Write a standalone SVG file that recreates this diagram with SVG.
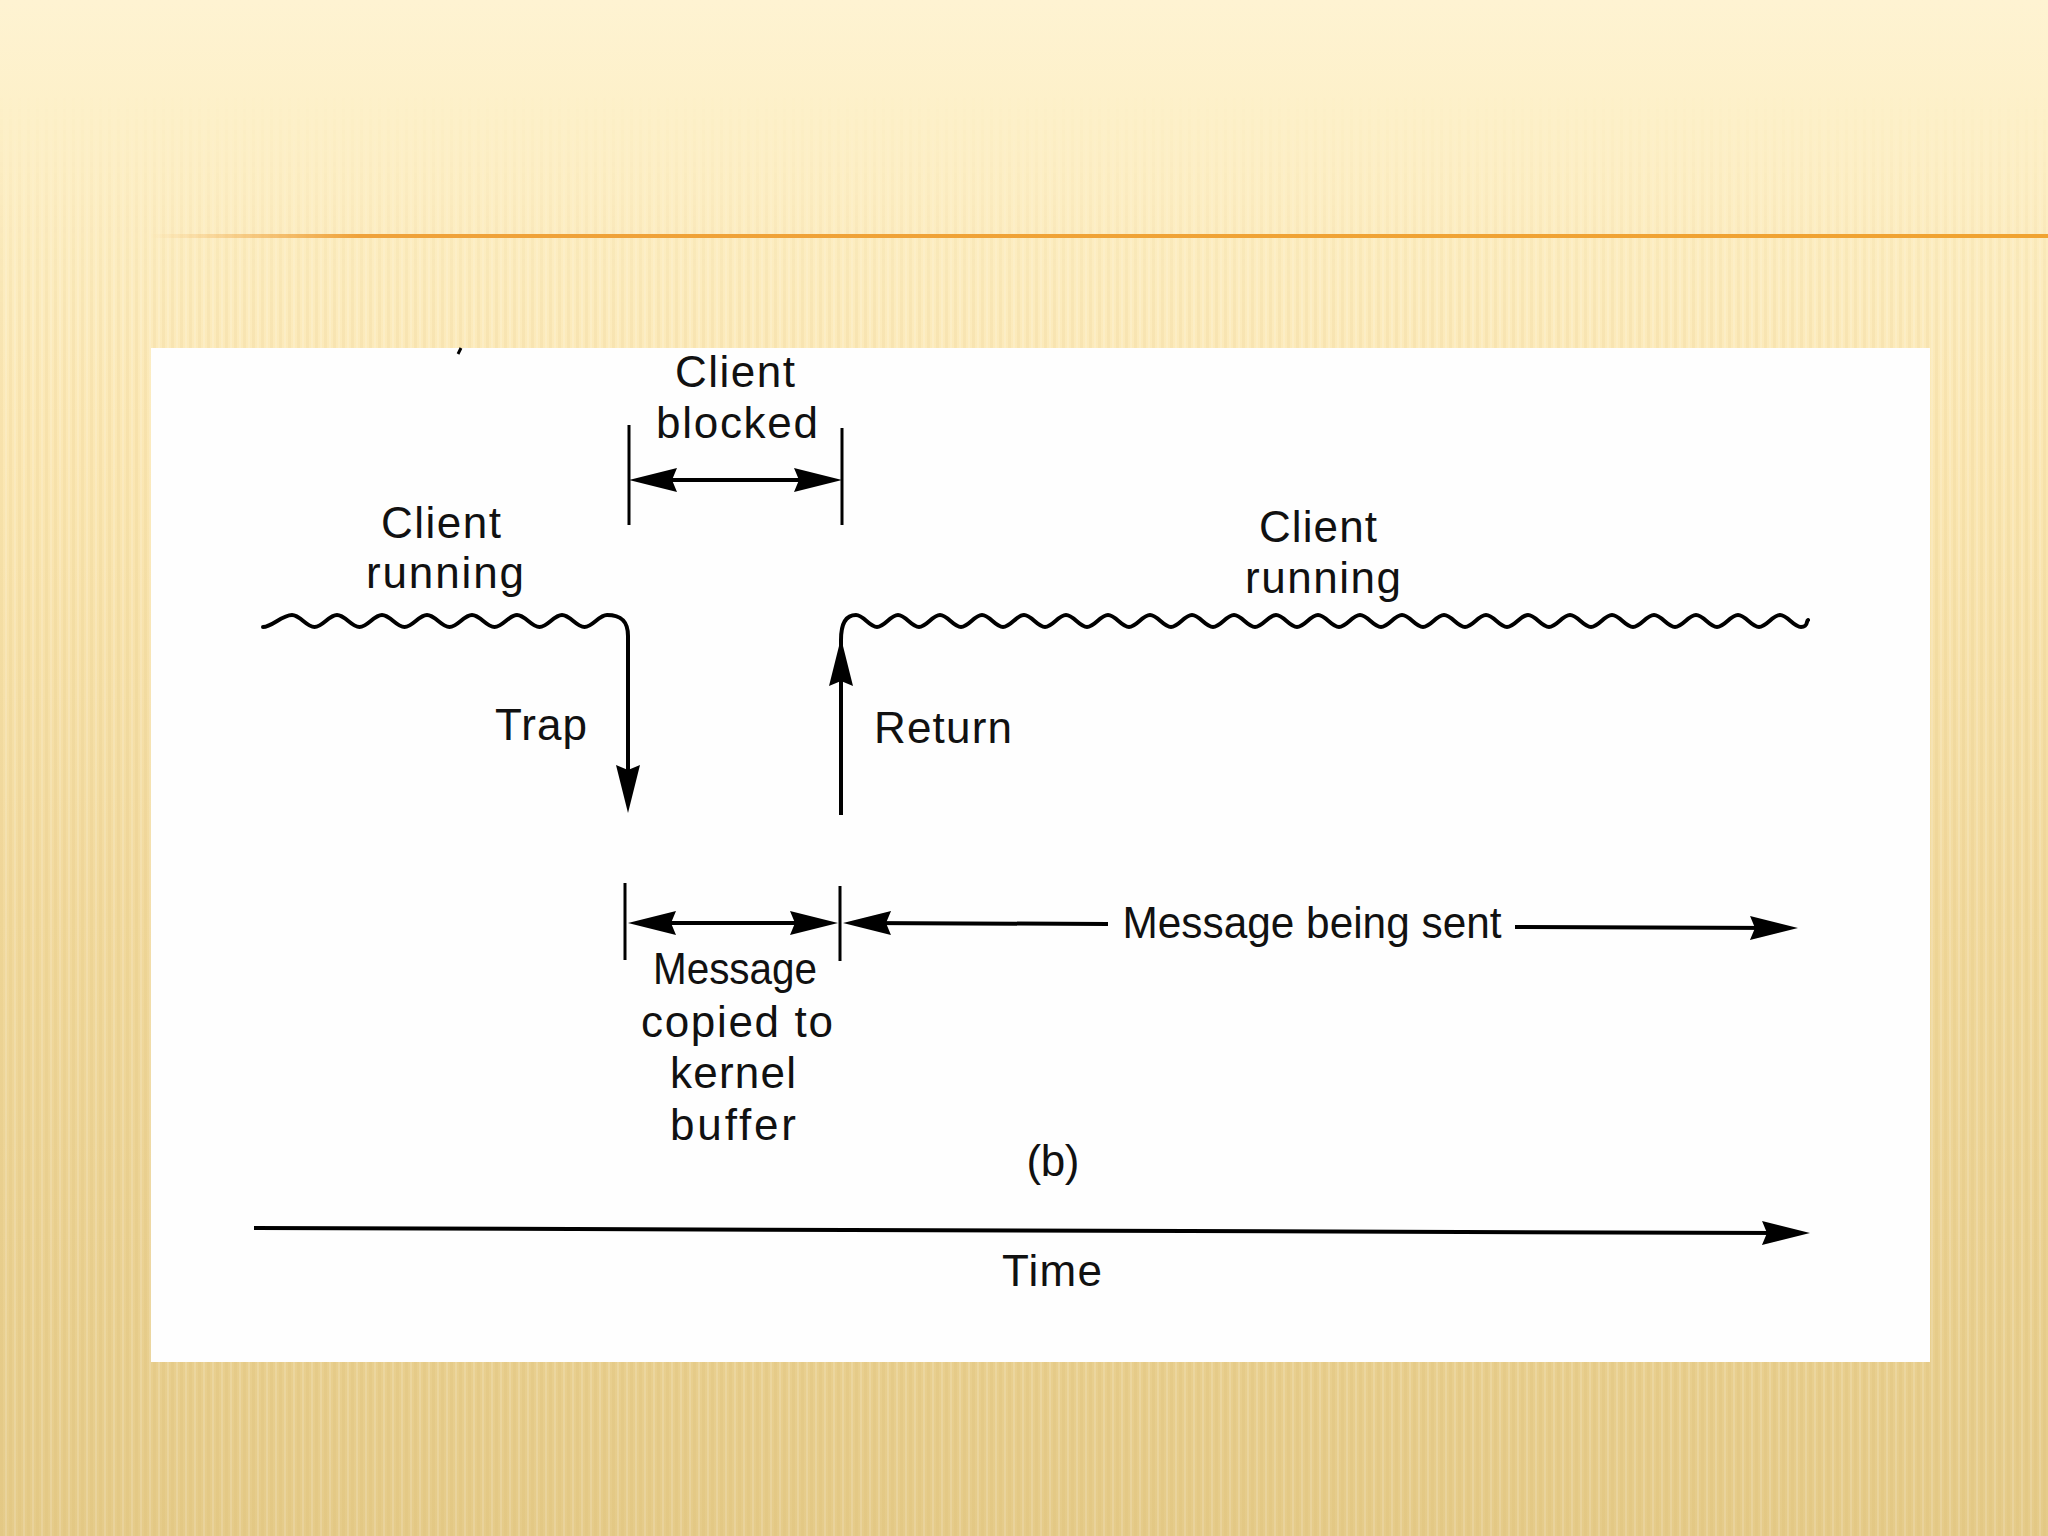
<svg xmlns="http://www.w3.org/2000/svg" width="2048" height="1536" viewBox="0 0 2048 1536">
  <defs>
    <linearGradient id="bg" x1="0" y1="0" x2="0" y2="1">
      <stop offset="0" stop-color="#FEF3D2"/>
      <stop offset="0.08" stop-color="#FDF0C8"/>
      <stop offset="0.3" stop-color="#FBE7B3"/>
      <stop offset="0.6" stop-color="#F1D99D"/>
      <stop offset="1" stop-color="#E5CB89"/>
    </linearGradient>
    <linearGradient id="stripeFade" x1="0" y1="0" x2="0" y2="1">
      <stop offset="0" stop-color="#fff" stop-opacity="0"/>
      <stop offset="0.06" stop-color="#fff" stop-opacity="0"/>
      <stop offset="0.2" stop-color="#fff" stop-opacity="1"/>
      <stop offset="1" stop-color="#fff" stop-opacity="1"/>
    </linearGradient>
    <mask id="fadeMask">
      <rect x="0" y="0" width="2048" height="1536" fill="url(#stripeFade)"/>
    </mask>
    <pattern id="stripes" x="0" y="0" width="9" height="40" patternUnits="userSpaceOnUse">
      <rect x="0" y="0" width="3" height="40" fill="#C8A250" opacity="0.08"/>
      <rect x="5" y="0" width="2" height="40" fill="#FFFFFF" opacity="0.15"/>
    </pattern>
    <linearGradient id="orange" x1="150" y1="0" x2="2048" y2="0" gradientUnits="userSpaceOnUse">
      <stop offset="0" stop-color="#EFA23A" stop-opacity="0"/>
      <stop offset="0.11" stop-color="#EFA23A" stop-opacity="1"/>
      <stop offset="1" stop-color="#F0A331" stop-opacity="1"/>
    </linearGradient>
    <marker id="ah" viewBox="-52 -14 56 28" refX="-20" refY="0" markerWidth="56" markerHeight="28" markerUnits="userSpaceOnUse" orient="auto-start-reverse">
      <path d="M0,0 L-48,-12 L-43,0 L-48,12 Z" fill="#000"/>
    </marker>
    <style>
      .lbl { font-family: "Liberation Sans", Arial, sans-serif; font-size: 44px; fill: #111; text-anchor: middle; }
      .ln { fill: none; stroke: #000; stroke-width: 4; }
      .tick { fill: none; stroke: #000; stroke-width: 3; }
      .wave { fill: none; stroke: #000; stroke-width: 4; stroke-linejoin: round; stroke-linecap: round; }
    </style>
  </defs>

  <!-- background -->
  <rect x="0" y="0" width="2048" height="1536" fill="url(#bg)"/>
  <rect x="0" y="0" width="2048" height="1536" fill="url(#stripes)" mask="url(#fadeMask)"/>
  <rect x="144" y="234" width="1904" height="4" fill="url(#orange)"/>

  <!-- white panel -->
  <rect x="151" y="348" width="1779" height="1014" fill="#FEFEFE"/>
  <path d="M461,348 L458,354" stroke="#000" stroke-width="3"/>

  <g id="connectors">
    <!-- client blocked span -->
    <line class="tick" x1="629" y1="425" x2="629" y2="525"/>
    <line class="tick" x1="842" y1="428" x2="842" y2="525"/>
    <line class="ln" x1="649" y1="480" x2="822" y2="480" marker-start="url(#ah)" marker-end="url(#ah)"/>

    <!-- left running wave + trap -->
    <path class="wave" marker-end="url(#ah)" d="M263,627 C272,627 282,615 292,615 C300.1,615 306.4,627 314.5,627 S328.9,615 337,615 S351.4,627 359.5,627 S373.9,615 382,615 S396.4,627 404.5,627 S418.9,615 427,615 S441.4,627 449.5,627 S463.9,615 472,615 S486.4,627 494.5,627 S508.9,615 517,615 S531.4,627 539.5,627 S553.9,615 562,615 S576.4,627 584.5,627 S598.9,615 607,615 C620,615 628,620 628,636 L628,793"/>

    <!-- return -->
    <line class="ln" x1="841" y1="815" x2="841" y2="658" marker-end="url(#ah)"/>
    <!-- right running wave -->
    <path class="wave" d="M841,660 L841,640 C841,624 846,615 856,615 C863.5,615 869.5,627 877,627 S890.5,615 898,615 S911.5,627 919,627 S932.5,615 940,615 S953.5,627 961,627 S974.5,615 982,615 S995.5,627 1003,627 S1016.5,615 1024,615 S1037.5,627 1045,627 S1058.5,615 1066,615 S1079.5,627 1087,627 S1100.5,615 1108,615 S1121.5,627 1129,627 S1142.5,615 1150,615 S1163.5,627 1171,627 S1184.5,615 1192,615 S1205.5,627 1213,627 S1226.5,615 1234,615 S1247.5,627 1255,627 S1268.5,615 1276,615 S1289.5,627 1297,627 S1310.5,615 1318,615 S1331.5,627 1339,627 S1352.5,615 1360,615 S1373.5,627 1381,627 S1394.5,615 1402,615 S1415.5,627 1423,627 S1436.5,615 1444,615 S1457.5,627 1465,627 S1478.5,615 1486,615 S1499.5,627 1507,627 S1520.5,615 1528,615 S1541.5,627 1549,627 S1562.5,615 1570,615 S1583.5,627 1591,627 S1604.5,615 1612,615 S1625.5,627 1633,627 S1646.5,615 1654,615 S1667.5,627 1675,627 S1688.5,615 1696,615 S1709.5,627 1717,627 S1730.5,615 1738,615 S1751.5,627 1759,627 S1772.5,615 1780,615 S1793.5,627 1801,627 S1806,621 1808,620"/>

    <!-- message copied span -->
    <line class="tick" x1="625" y1="883" x2="625" y2="960"/>
    <line class="tick" x1="840" y1="886" x2="840" y2="961"/>
    <line class="ln" x1="648" y1="923" x2="818" y2="923" marker-start="url(#ah)" marker-end="url(#ah)"/>

    <!-- message being sent -->
    <line class="ln" x1="863" y1="923" x2="1108" y2="924" stroke-width="3" marker-start="url(#ah)"/>
    <line class="ln" x1="1515" y1="927" x2="1778" y2="928" stroke-width="3" marker-end="url(#ah)"/>

    <!-- time axis -->
    <line class="ln" x1="254" y1="1228" x2="1790" y2="1233" stroke-width="5" marker-end="url(#ah)"/>
  </g>

  <g id="client-blocked">
    <text class="lbl" x="735" y="387" textLength="120">Client</text>
    <text class="lbl" x="737" y="438" textLength="162">blocked</text>
  </g>
  <g id="client-running-left">
    <text class="lbl" x="441" y="538" textLength="120">Client</text>
    <text class="lbl" x="445" y="588" textLength="158">running</text>
  </g>
  <g id="trap">
    <text class="lbl" x="541" y="740" textLength="92">Trap</text>
  </g>
  <g id="return">
    <text class="lbl" x="943" y="743" textLength="138">Return</text>
  </g>
  <g id="client-running-right">
    <text class="lbl" x="1318" y="542" textLength="118">Client</text>
    <text class="lbl" x="1323" y="593" textLength="156">running</text>
  </g>
  <g id="message-being-sent">
    <text class="lbl" x="1312" y="938" textLength="379" lengthAdjust="spacingAndGlyphs">Message being sent</text>
  </g>
  <g id="message-copied">
    <text class="lbl" x="735" y="984" textLength="164" lengthAdjust="spacingAndGlyphs">Message</text>
    <text class="lbl" x="737" y="1037" textLength="192">copied to</text>
    <text class="lbl" x="733" y="1088" textLength="126">kernel</text>
    <text class="lbl" x="733" y="1140" textLength="126">buffer</text>
  </g>
  <g id="caption">
    <text class="lbl" x="1053" y="1176" textLength="53">(b)</text>
  </g>
  <g id="time">
    <text class="lbl" x="1052" y="1286" textLength="100">Time</text>
  </g>
</svg>
